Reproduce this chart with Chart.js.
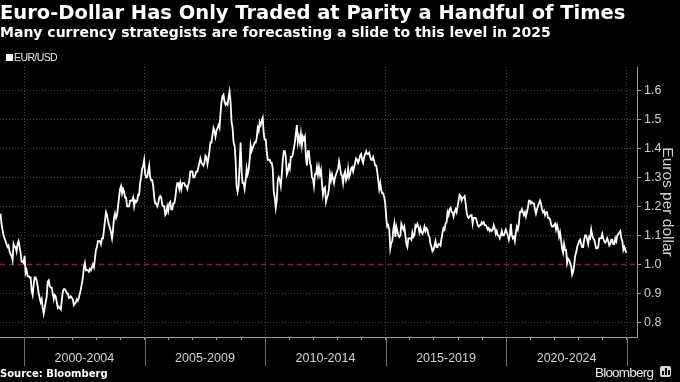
<!DOCTYPE html>
<html>
<head>
<meta charset="utf-8">
<script src="https://cdn.jsdelivr.net/npm/chart.js@4.4.1/dist/chart.umd.min.js"></script>
<style>
  html, body { margin: 0; padding: 0; background: #000; }
  #wrap { position: relative; width: 680px; height: 382px; background: #000; overflow: hidden; }
  #c { position: absolute; left: 0; top: 0; }
  .legend { position: absolute; left: 6px; top: 51px; height: 12px; font-family: 'Liberation Sans', Arial, sans-serif; font-size: 10.5px; line-height: 12px; letter-spacing: -0.6px; color: #e6e6e6; white-space: nowrap; }
  .legend .sw { position: absolute; left: 0; top: 3px; width: 7px; height: 7px; background: #fff; }
  .legend .tx { position: absolute; left: 8px; top: 0; }
  .source { position: absolute; left: 0; top: 368px; font-family: 'DejaVu Sans', sans-serif; font-weight: bold; font-size: 10px; line-height: 12px; color: #fff; white-space: nowrap; }
  .brand { position: absolute; left: 595px; top: 365px; font-family: 'Liberation Sans', Arial, sans-serif; font-size: 13.5px; line-height: 15px; letter-spacing: -0.8px; color: #e8e8e8; white-space: nowrap; }
  .icon { position: absolute; left: 660px; top: 366px; width: 11px; height: 11px; background: #d6d6d6; border-radius: 2px; }
  .icon i { position: absolute; bottom: 2px; width: 2px; background: #000; }
</style>
</head>
<body>
<div id="wrap">
  <canvas id="c" width="680" height="382"></canvas>
  <div class="legend"><span class="sw"></span><span class="tx">EUR/USD</span></div>
  <div class="source">Source: Bloomberg</div>
  <div class="brand">Bloomberg</div>
  <div class="icon"><i style="left:2px;height:4px"></i><i style="left:5px;height:7px"></i><i style="left:8px;height:5px"></i></div>
</div>
<script>
// ---- Data (EUR/USD, two readings per month) ----
const titleText = 'Euro-Dollar Has Only Traded at Parity a Handful of Times';
const subtitleText = 'Many currency strategists are forecasting a slide to this level in 2025';
const seriesName = 'EUR/USD';
const yAxisTitle = 'Euros per dollar';

const startYear = 1999;
const pointsPerYear = 24;

const rate1999 = [1.175, 1.14, 1.12, 1.10, 1.09, 1.08, 1.07, 1.06, 1.065, 1.045, 1.035, 1.03,
  1.015, 1.07, 1.06, 1.06, 1.045, 1.07, 1.08, 1.06, 1.04, 1.01, 1.01, 1.005];

const rate2000_2004 = [
  1.03, 0.97, 0.98, 0.96, 0.96, 0.955, 0.955, 0.91, 0.895, 0.93, 0.955, 0.955,
  0.945, 0.925, 0.90, 0.885, 0.87, 0.88, 0.85, 0.83, 0.85, 0.87, 0.89, 0.94,
  0.945, 0.925, 0.92, 0.92, 0.90, 0.88, 0.895, 0.89, 0.87, 0.85, 0.855, 0.85,
  0.845, 0.875, 0.905, 0.915, 0.915, 0.91, 0.90, 0.90, 0.885, 0.885, 0.89, 0.885,
  0.88, 0.86, 0.865, 0.87, 0.88, 0.875, 0.885, 0.90, 0.915, 0.935, 0.955, 0.99,
  1.005, 0.98, 0.98, 0.98, 0.975, 0.985, 0.98, 0.99, 1.00, 0.99, 1.02, 1.05,
  1.06, 1.08, 1.08, 1.08, 1.07, 1.09, 1.09, 1.12, 1.15, 1.18, 1.17, 1.15,
  1.135, 1.125, 1.11, 1.09, 1.12, 1.16, 1.175, 1.16, 1.17, 1.20, 1.23, 1.26,
  1.27, 1.245, 1.26, 1.25, 1.23, 1.23, 1.20, 1.20, 1.20, 1.22, 1.22, 1.22,
  1.23, 1.20, 1.22, 1.215, 1.22, 1.24, 1.24, 1.28, 1.30, 1.33, 1.34, 1.36];

const rate2005_2009 = [
  1.31, 1.30, 1.30, 1.32, 1.34, 1.30, 1.29, 1.29, 1.27, 1.23, 1.21, 1.21,
  1.20, 1.21, 1.23, 1.235, 1.23, 1.205, 1.20, 1.20, 1.17, 1.175, 1.20, 1.185,
  1.21, 1.215, 1.19, 1.19, 1.21, 1.21, 1.23, 1.26, 1.28, 1.28, 1.26, 1.28,
  1.26, 1.28, 1.28, 1.28, 1.27, 1.27, 1.26, 1.275, 1.29, 1.32, 1.32, 1.32,
  1.30, 1.30, 1.31, 1.32, 1.32, 1.335, 1.35, 1.365, 1.35, 1.345, 1.34, 1.35,
  1.375, 1.37, 1.345, 1.365, 1.39, 1.42, 1.42, 1.445, 1.47, 1.46, 1.44, 1.46,
  1.47, 1.48, 1.47, 1.52, 1.56, 1.58, 1.585, 1.56, 1.55, 1.555, 1.55, 1.575,
  1.595, 1.56, 1.49, 1.47, 1.42, 1.41, 1.36, 1.27, 1.25, 1.27, 1.34, 1.42,
  1.32, 1.28, 1.28, 1.26, 1.29, 1.33, 1.31, 1.325, 1.36, 1.41, 1.39, 1.40,
  1.41, 1.42, 1.42, 1.435, 1.47, 1.46, 1.49, 1.48, 1.495, 1.505, 1.45, 1.43];

const rate2010_2014 = [
  1.43, 1.39, 1.36, 1.36, 1.36, 1.35, 1.35, 1.33, 1.25, 1.23, 1.195, 1.22,
  1.29, 1.30, 1.29, 1.27, 1.31, 1.36, 1.39, 1.39, 1.37, 1.31, 1.32, 1.34,
  1.33, 1.37, 1.37, 1.38, 1.40, 1.42, 1.45, 1.48, 1.42, 1.44, 1.42, 1.45,
  1.41, 1.44, 1.43, 1.44, 1.37, 1.34, 1.39, 1.39, 1.35, 1.34, 1.30, 1.295,
  1.27, 1.31, 1.31, 1.335, 1.31, 1.335, 1.31, 1.325, 1.28, 1.24, 1.26, 1.265,
  1.215, 1.23, 1.24, 1.26, 1.31, 1.29, 1.31, 1.295, 1.28, 1.30, 1.31, 1.32,
  1.33, 1.355, 1.335, 1.31, 1.305, 1.28, 1.31, 1.32, 1.29, 1.30, 1.33, 1.30,
  1.31, 1.33, 1.335, 1.32, 1.335, 1.35, 1.365, 1.36, 1.35, 1.36, 1.375, 1.38,
  1.36, 1.35, 1.37, 1.38, 1.39, 1.38, 1.38, 1.385, 1.37, 1.36, 1.36, 1.37,
  1.355, 1.34, 1.34, 1.32, 1.29, 1.26, 1.28, 1.255, 1.245, 1.245, 1.23, 1.21];

const rate2015_2019 = [
  1.16, 1.13, 1.135, 1.12, 1.055, 1.075, 1.08, 1.12, 1.14, 1.095, 1.13, 1.115,
  1.10, 1.095, 1.10, 1.14, 1.13, 1.12, 1.13, 1.10, 1.07, 1.06, 1.09, 1.09,
  1.09, 1.085, 1.11, 1.095, 1.10, 1.135, 1.13, 1.14, 1.13, 1.11, 1.125, 1.11,
  1.105, 1.115, 1.13, 1.115, 1.125, 1.12, 1.10, 1.095, 1.07, 1.06, 1.045, 1.05,
  1.065, 1.08, 1.06, 1.06, 1.07, 1.07, 1.065, 1.09, 1.11, 1.125, 1.12, 1.14,
  1.145, 1.18, 1.17, 1.19, 1.195, 1.18, 1.18, 1.165, 1.18, 1.19, 1.18, 1.20,
  1.22, 1.24, 1.235, 1.22, 1.23, 1.23, 1.235, 1.21, 1.18, 1.165, 1.16, 1.165,
  1.17, 1.17, 1.14, 1.16, 1.16, 1.16, 1.15, 1.135, 1.13, 1.135, 1.135, 1.145,
  1.14, 1.145, 1.135, 1.135, 1.13, 1.12, 1.125, 1.115, 1.12, 1.115, 1.12, 1.135,
  1.125, 1.105, 1.115, 1.10, 1.10, 1.09, 1.10, 1.115, 1.10, 1.10, 1.11, 1.12];

const rate2020_2024 = [
  1.11, 1.10, 1.085, 1.10, 1.14, 1.10, 1.09, 1.095, 1.08, 1.11, 1.13, 1.12,
  1.14, 1.18, 1.18, 1.19, 1.18, 1.17, 1.18, 1.165, 1.18, 1.195, 1.22, 1.22,
  1.21, 1.215, 1.21, 1.21, 1.19, 1.175, 1.19, 1.20, 1.21, 1.22, 1.21, 1.19,
  1.18, 1.185, 1.17, 1.18, 1.18, 1.16, 1.16, 1.155, 1.14, 1.13, 1.13, 1.135,
  1.14, 1.12, 1.135, 1.12, 1.095, 1.11, 1.085, 1.055, 1.04, 1.07, 1.05, 1.05,
  1.005, 1.02, 1.015, 1.005, 0.995, 0.965, 0.975, 0.995, 1.03, 1.04, 1.06, 1.07,
  1.08, 1.085, 1.07, 1.06, 1.06, 1.085, 1.10, 1.10, 1.085, 1.07, 1.095, 1.09,
  1.12, 1.10, 1.09, 1.085, 1.07, 1.055, 1.055, 1.06, 1.09, 1.09, 1.09, 1.105,
  1.09, 1.08, 1.075, 1.08, 1.09, 1.08, 1.065, 1.07, 1.085, 1.085, 1.07, 1.07,
  1.09, 1.08, 1.10, 1.105, 1.11, 1.115, 1.09, 1.08, 1.05, 1.06, 1.05, 1.04];

const parityLevel = 1.0;
const periodStarts = [2000, 2005, 2010, 2015, 2020];
const periodLabels = ['2000-2004', '2005-2009', '2010-2014', '2015-2019', '2020-2024'];
const boundaryYears = [2000, 2005, 2010, 2015, 2020, 2025];
const yTickValues = [0.8, 0.9, 1.0, 1.1, 1.2, 1.3, 1.4, 1.5, 1.6];

// ---- Build ----
const rateSeries = [].concat(rate1999, rate2000_2004, rate2005_2009, rate2010_2014, rate2015_2019, rate2020_2024);
const ratePoints = rateSeries.map((v, i) => ({ x: startYear + (i + 0.5) / pointsPerYear, y: v }));

const xMin = 1999, xMax = 2025.42;
const yMin = 0.75, yMax = 1.68;

const gridColor = '#474747';
const axisColor = '#9a9a9a';
const labelColor = '#d2d2d2';

const separators = {
  id: 'separators',
  afterDraw(chart) {
    const xs = chart.scales.x;
    const ctx = chart.ctx;
    const b = chart.chartArea.bottom;
    ctx.save();
    ctx.strokeStyle = '#6e6e6e';
    ctx.lineWidth = 1;
    boundaryYears.forEach(yr => {
      const px = Math.round(xs.getPixelForValue(yr)) + 0.5;
      ctx.beginPath();
      ctx.moveTo(px, b);
      ctx.lineTo(px, b + 29);
      ctx.stroke();
    });
    ctx.restore();
  }
};

new Chart(document.getElementById('c'), {
  type: 'line',
  data: {
    datasets: [
      {
        label: seriesName,
        data: ratePoints,
        borderColor: '#ffffff',
        borderWidth: 1.8,
        pointRadius: 0,
        tension: 0,
        order: 1
      },
      {
        label: 'Parity',
        data: [{ x: xMin, y: parityLevel }, { x: xMax, y: parityLevel }],
        borderColor: '#862431',
        borderWidth: 1.5,
        borderDash: [5, 4],
        pointRadius: 0,
        order: 2
      }
    ]
  },
  options: {
    responsive: false,
    animation: false,
    devicePixelRatio: 1,
    layout: { padding: 0 },
    plugins: {
      legend: { display: false },
      tooltip: { enabled: false },
      title: {
        display: true, text: titleText, align: 'start', color: '#ffffff',
        font: { family: 'DejaVu Sans', weight: 'bold', size: 19.5, lineHeight: 1.2 },
        padding: { top: 2, bottom: 0 }
      },
      subtitle: {
        display: true, text: subtitleText, align: 'start', color: '#ffffff',
        font: { family: 'DejaVu Sans', weight: 'bold', size: 14, lineHeight: 1.2 },
        padding: { top: 0, bottom: 24.8 }
      }
    },
    scales: {
      x: {
        type: 'linear',
        position: 'bottom',
        min: xMin,
        max: xMax,
        afterBuildTicks(scale) {
          const t = [];
          for (let yr = 2000; yr <= 2025; yr++) t.push({ value: yr });
          periodStarts.forEach(s => t.push({ value: s + 2.5 }));
          t.sort((a, b) => a.value - b.value);
          scale.ticks = t;
        },
        afterFit(scale) { scale.height = 45; },
        ticks: {
          autoSkip: false, maxRotation: 0, minRotation: 0,
          color: labelColor,
          font: { family: 'Liberation Sans', size: 12.5 },
          padding: 11.5,
          callback(value) {
            const i = periodStarts.findIndex(s => Math.abs(s + 2.5 - value) < 1e-6);
            return i >= 0 ? periodLabels[i] : '';
          }
        },
        grid: {
          color: ctx => (ctx.tick && boundaryYears.includes(ctx.tick.value)) ? gridColor : 'rgba(0,0,0,0)',
          tickColor: ctx => (ctx.tick && Number.isInteger(ctx.tick.value)) ? axisColor : 'rgba(0,0,0,0)',
          tickLength: 3,
          lineWidth: 1
        },
        border: { display: true, color: axisColor, width: 1, dash: [1, 2] }
      },
      y: {
        type: 'linear',
        position: 'right',
        min: yMin,
        max: yMax,
        afterBuildTicks(scale) { scale.ticks = yTickValues.map(v => ({ value: v })); },
        afterFit(scale) { scale.width = 43; },
        ticks: {
          color: labelColor,
          font: { family: 'Liberation Sans', size: 12.5 },
          padding: 3,
          callback: v => Number(v).toFixed(1)
        },
        grid: {
          color: ctx => (ctx.tick && Math.abs(ctx.tick.value - parityLevel) < 1e-6) ? 'rgba(0,0,0,0)' : gridColor,
          tickColor: axisColor, tickLength: 4, lineWidth: 1
        },
        border: { display: true, color: axisColor, width: 1, dash: [1, 2] },
        title: {
          display: true, text: yAxisTitle, color: labelColor,
          font: { family: 'Liberation Sans', size: 15.5, lineHeight: 1.2 },
          padding: { top: 3, bottom: 0 }
        }
      }
    }
  },
  plugins: [separators]
});
</script>
</body>
</html>
